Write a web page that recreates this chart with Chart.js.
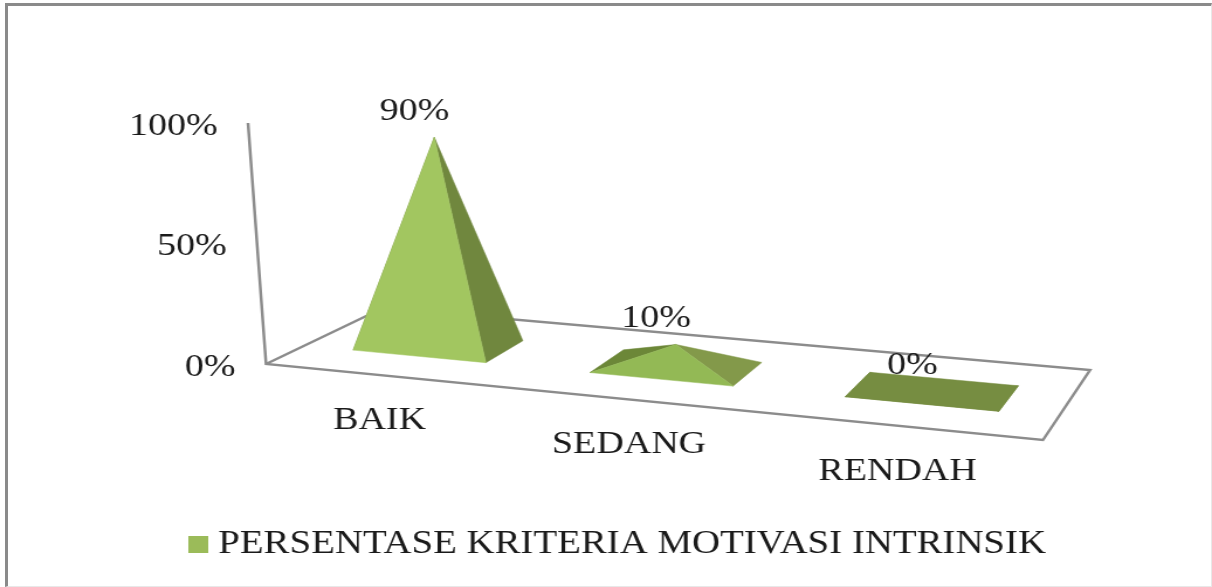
<!DOCTYPE html>
<html lang="en">

<head>
    <meta charset="UTF-8">
    <title>Persentase Kriteria Motivasi Intrinsik</title>
    <script src="https://cdn.jsdelivr.net/npm/chart.js"></script>
    <style>
        html, body {
            margin: 0;
            background-color: #fff;
            overflow: hidden;
        }

        /* the picture is a wide-stretched chart, so the canvas gets stretched too */
        #chart {
            position: absolute;
            left: 0;
            top: 0;
            width: 1212px !important;
            height: 587px !important;
        }

        .frame {
            position: absolute;
            left: 5px;
            top: 3px;
            right: 0;
            bottom: 0;
            border-top: 3px solid #8a8a8a;
            border-left: 3px solid #8a8a8a;
            border-right: 1px solid #e8e8e8;
            border-bottom: 1px solid #e8e8e8;
        }
    </style>
</head>

<body>
    <canvas id="chart" width="1036" height="587"></canvas>
    <div class="frame"></div>

    <script>
        const categories = ['BAIK', 'SEDANG', 'RENDAH'];
        const seriesName = 'PERSENTASE KRITERIA MOTIVASI INTRINSIK';
        const seriesValues = [90, 10, 0];
        const valueTicks = [0, 50, 100];

        // face shades per pyramid
        const frontColors = ['#a2c660', '#93b955', '#768d41'];
        const rightColors = ['#70873e', '#83994a', '#768d41'];
        const leftColors = ['#70873e', '#6c8738', '#768d41'];

        // oblique view of the floor
        const view = {
            wallLean: 15.4,
            frontDrop: 76,
            backLeft: { dx: 100, dy: -56 },
            backRight: { dx: 40.2, dy: -70 },
            foreshorten: 0.11,
            depthFront: 0.33,
            depthBack: 0.7,
            heightScale: 0.96,
            apexLean: -0.017
        };

        const textFont = '32.5px "Liberation Serif"';
        const textColor = '#1a1a1a';

        // floor position -> pixels, u runs along the category axis, v goes back into the picture
        function floorPoint(chart, u, v) {
            const xs = chart.scales.x;
            const y0 = chart.scales.y.getPixelForValue(0);
            const w = u - view.foreshorten * u * (1 - u);
            const lx = xs.left + view.backLeft.dx * v;
            const ly = y0 + view.backLeft.dy * v;
            const rx = xs.right + view.backRight.dx * v;
            const ry = y0 + view.frontDrop + view.backRight.dy * v;
            return { x: lx + (rx - lx) * w, y: ly + (ry - ly) * w };
        }

        function fillFace(ctx, color, points) {
            ctx.fillStyle = color;
            ctx.strokeStyle = color;
            ctx.lineWidth = 0.5;
            ctx.beginPath();
            points.forEach((p, i) => i ? ctx.lineTo(p.x, p.y) : ctx.moveTo(p.x, p.y));
            ctx.closePath();
            ctx.fill();
            ctx.stroke();
        }

        function apexOf(chart, bar) {
            const xs = chart.scales.x;
            const u = (bar.x - xs.left) / xs.width;
            const center = floorPoint(chart, u, (view.depthFront + view.depthBack) / 2);
            const h = (bar.base - bar.y) * view.heightScale;
            return { x: center.x + h * view.apexLean, y: center.y - h };
        }

        // bar chart that draws every bar as a pyramid standing on the floor
        class PyramidController extends Chart.BarController {
            draw() {
                const chart = this.chart;
                const ctx = chart.ctx;
                const xs = chart.scales.x;
                this.getMeta().data.forEach((bar, i) => {
                    const u0 = (bar.x - bar.width / 2 - xs.left) / xs.width;
                    const u1 = (bar.x + bar.width / 2 - xs.left) / xs.width;
                    const fl = floorPoint(chart, u0, view.depthFront);
                    const fr = floorPoint(chart, u1, view.depthFront);
                    const bl = floorPoint(chart, u0, view.depthBack);
                    const br = floorPoint(chart, u1, view.depthBack);
                    const apex = apexOf(chart, bar);
                    fillFace(ctx, leftColors[i], [fl, bl, apex]);
                    fillFace(ctx, rightColors[i], [fr, br, apex]);
                    fillFace(ctx, frontColors[i], [fl, fr, apex]);
                    // a flat pyramid is just its base
                    if (bar.base - bar.y < 1) fillFace(ctx, frontColors[i], [fl, fr, br, bl]);
                });
            }
        }
        PyramidController.id = 'pyramid';
        PyramidController.defaults = Chart.BarController.defaults;
        Chart.register(PyramidController);

        const axesPlugin = {
            id: 'obliqueAxes',
            afterLayout(chart) {
                // legend sits in its own spot under the floor
                const legend = chart.legend;
                legend.left = 159;
                legend.right = 1030;
                legend.top = 518;
                legend.bottom = 572;
            },
            beforeDatasetsDraw(chart) {
                const ctx = chart.ctx;
                const ys = chart.scales.y;
                const a = floorPoint(chart, 0, 0);
                const b = floorPoint(chart, 1, 0);
                const c = floorPoint(chart, 1, 1);
                const d = floorPoint(chart, 0, 1);
                ctx.save();
                ctx.strokeStyle = '#8c8c8c';
                ctx.lineWidth = 2.5;
                ctx.beginPath();
                ctx.moveTo(a.x - view.wallLean, ys.getPixelForValue(100));
                ctx.lineTo(a.x, a.y);
                ctx.lineTo(b.x, b.y);
                ctx.lineTo(c.x, c.y);
                ctx.lineTo(d.x, d.y);
                ctx.lineTo(a.x, a.y);
                ctx.stroke();
                ctx.restore();
            },
            afterDatasetsDraw(chart) {
                const ctx = chart.ctx;
                const xs = chart.scales.x;
                const ys = chart.scales.y;
                ctx.save();
                ctx.font = textFont;
                ctx.fillStyle = textColor;
                ctx.textBaseline = 'middle';

                // value axis labels follow the leaning wall
                ctx.textAlign = 'right';
                ys.ticks.forEach(tick => {
                    const py = ys.getPixelForValue(tick.value);
                    const wallX = xs.left - view.wallLean * tick.value / 100;
                    ctx.fillText(tick.label, wallX - 26, py + 3);
                });

                ctx.textAlign = 'center';
                chart.getDatasetMeta(0).data.forEach((bar, i) => {
                    // category label below the floor edge
                    const u = (bar.x - xs.left) / xs.width;
                    const edge = floorPoint(chart, u, 0);
                    ctx.fillText(categories[i], edge.x - 3.5, edge.y + 45);

                    // value above the tip
                    const apex = apexOf(chart, bar);
                    ctx.fillText(seriesValues[i] + '%', apex.x - 17, apex.y - 26);
                });
                ctx.restore();
            }
        };

        // legend marker: the gap to the text is fixed by the library, so use a small image
        const swatch = document.createElement('canvas');
        swatch.width = 17;
        swatch.height = 17;
        const swatchCtx = swatch.getContext('2d');
        swatchCtx.fillStyle = '#9bbb59';
        swatchCtx.fillRect(0, 0, 17, 17);

        new Chart(document.getElementById('chart'), {
            type: 'pyramid',
            data: {
                labels: categories,
                datasets: [{
                    label: seriesName,
                    data: seriesValues,
                    backgroundColor: '#9bbb59',
                    barPercentage: 0.57,
                    categoryPercentage: 1,
                    clip: false
                }]
            },
            options: {
                responsive: false,
                animation: false,
                devicePixelRatio: 1,
                layout: {
                    padding: { left: 227.4, right: 144.5, top: 123, bottom: 169.8 }
                },
                scales: {
                    x: { type: 'category', display: false },
                    y: {
                        type: 'linear',
                        display: false,
                        min: 0,
                        max: 100,
                        afterBuildTicks(scale) {
                            scale.ticks = valueTicks.map(value => ({ value }));
                        },
                        ticks: { callback: value => value + '%' }
                    }
                },
                plugins: {
                    tooltip: { enabled: false },
                    legend: {
                        display: true,
                        position: 'bottom',
                        align: 'start',
                        labels: {
                            font: { family: '"Liberation Serif"', size: 33.2 },
                            color: textColor,
                            usePointStyle: true,
                            pointStyle: swatch,
                            pointStyleWidth: 1
                        }
                    }
                }
            },
            plugins: [axesPlugin]
        });
    </script>
</body>

</html>
